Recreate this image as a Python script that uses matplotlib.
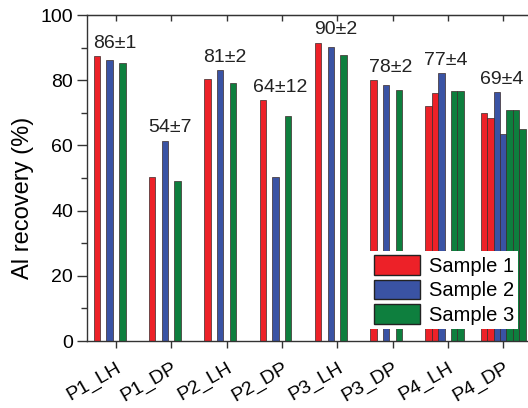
import numpy as np
import matplotlib
matplotlib.use("Agg")
import matplotlib.pyplot as plt

plt.rcParams['font.family'] = ['Liberation Sans', 'DejaVu Sans']

categories = ["P1_LH", "P1_DP", "P2_LH", "P2_DP", "P3_LH", "P3_DP", "P4_LH", "P4_DP"]
nan = np.nan

# one column per replicate, NaN where a sample had no replicate
s1a = [87.3, 50.4, 80.3, 73.8, 91.5, 80.0, 72.0, 69.8]
s1b = [nan, nan, nan, nan, nan, nan, 76.1, 68.3]
s2a = [86.2, 61.5, 83.1, 50.3, 90.1, 78.5, 82.1, 76.3]
s2b = [nan, nan, nan, nan, nan, nan, nan, 63.6]
s3a = [85.3, 49.1, 79.2, 69.0, 87.8, 77.0, 76.6, 71.0]
s3b = [nan, nan, nan, nan, nan, nan, 76.6, 71.0]
s3c = [nan, nan, nan, nan, nan, nan, nan, 65.1]

mean_labels = ["86±1", "54±7", "81±2", "64±12", "90±2", "78±2", "77±4", "69±4"]

red = "#ED2128"
blue = "#3A53A4"
green = "#0E7F3E"

columns = [
    (s1a, red, "Sample 1"),
    (s1b, red, None),
    (s2a, blue, "Sample 2"),
    (s2b, blue, None),
    (s3a, green, "Sample 3"),
    (s3b, green, None),
    (s3c, green, None),
]

fig = plt.figure(figsize=(5.28, 4.08), dpi=100)
ax = fig.add_axes([0.1648, 0.1642, 0.8352, 0.7990])

x = np.arange(len(categories))
w = 0.1157
for k, (vals, col, lab) in enumerate(columns):
    ax.bar(x + (k - 3) * w, vals, width=w, color=col, edgecolor="#3a2a2a",
           linewidth=0.5, label=lab, zorder=2)

allvals = np.array([c[0] for c in columns], dtype=float)
tops = np.nanmax(allvals, axis=0)
for xi, top, txt in zip(x, tops, mean_labels):
    ax.text(xi - 0.03, top + 1.3, txt, ha="center", va="bottom", fontsize=14,
            color="#222222", zorder=3)

ax.set_xlim(-0.524, 7.45)
ax.set_ylim(0, 100)
ax.set_xticks(x)
ax.set_xticklabels(categories, rotation=30, ha="right", rotation_mode="anchor",
                   fontsize=14)
ax.set_yticks([0, 20, 40, 60, 80, 100])
ax.set_yticks([10, 30, 50, 70, 90], minor=True)
ax.tick_params(axis="y", which="major", direction="out", length=7, width=1,
               labelsize=14, color="#333333", pad=3)
ax.tick_params(axis="y", which="minor", direction="out", length=4, width=1,
               color="#333333")
ax.tick_params(axis="x", which="major", direction="out", length=5, width=1,
               color="#333333", pad=8)
ax.set_ylabel("Al recovery (%)", fontsize=17)
ax.yaxis.set_label_coords(-0.12, 0.44)

# small inward ticks on the top frame
top_ax = ax.secondary_xaxis("top")
top_ax.set_xticks(x)
top_ax.tick_params(direction="in", length=4, width=1, color="#333333",
                   labeltop=False)
top_ax.spines["top"].set_color("#333333")

for side in ["left", "bottom", "top"]:
    ax.spines[side].set_color("#333333")
    ax.spines[side].set_linewidth(1)
ax.spines["right"].set_visible(False)

leg = ax.legend(loc="upper left", bbox_to_anchor=(0.642, 0.275), fontsize=14.5,
                handlelength=2.3, handleheight=1.1, labelspacing=0.2,
                handletextpad=0.4, borderpad=0.2, borderaxespad=0,
                frameon=True, fancybox=False, framealpha=1)
leg.get_frame().set_edgecolor("none")
for h in leg.legend_handles:
    h.set_edgecolor("#222222")
    h.set_linewidth(1)
leg.set_zorder(5)

fig.savefig("out.png", dpi=100)
